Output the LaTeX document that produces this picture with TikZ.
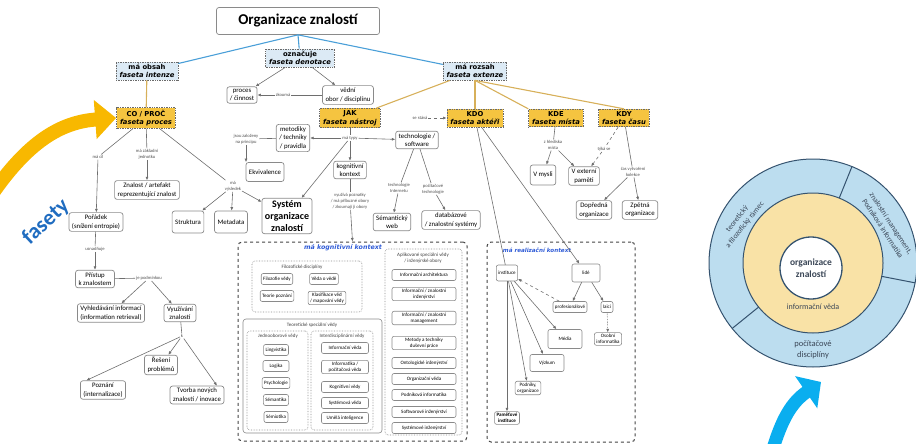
\documentclass[tikz,border=0pt]{standalone}
\usepackage{fontspec}
\setmainfont{Carlito}
\newfontfamily\facetfont{DejaVu Sans}
\usetikzlibrary{arrows.meta}
\definecolor{faceblue}{HTML}{DCEAF5}
\definecolor{facegold}{HTML}{F5C440}
\definecolor{facetline}{HTML}{6A6A6A}
\definecolor{boxgray}{HTML}{8A8A8A}
\definecolor{linegray}{HTML}{6E6E6E}
\definecolor{lblgray}{HTML}{505050}
\definecolor{topblue}{HTML}{4A9FD8}
\definecolor{facetan}{HTML}{D7B05A}
\definecolor{ctxline}{HTML}{444444}
\definecolor{ctxblue}{HTML}{2F5BD6}
\definecolor{ringblue}{HTML}{BCDDEF}
\definecolor{ringyellow}{HTML}{F9E2A6}
\definecolor{ringdark}{HTML}{35536F}
\definecolor{ringtextc}{HTML}{3A4656}
\definecolor{arrowgold}{HTML}{F8B800}
\definecolor{arrowcyan}{HTML}{0AAEEF}
\definecolor{fasetyblue}{HTML}{1F6CC0}
\begin{document}
\begin{tikzpicture}[x=1pt, y=-1pt,
  box/.style={draw=boxgray, fill=white, rounded corners=2.5pt, line width=0.7pt, align=center, inner xsep=3pt, inner ysep=2.2pt, font=\fontsize{6.8}{8.5}\selectfont},
  sbox/.style={box, font=\fontsize{5}{6.3}\selectfont, inner xsep=2pt, inner ysep=1.4pt, minimum height=11pt, line width=0.6pt, rounded corners=2pt},
  lbl/.style={fill=white, inner sep=0.8pt, align=center, text=lblgray, font=\fontsize{4.6}{5.8}\selectfont},
  facet/.style={draw=facetline, densely dotted, line width=0.7pt, align=center, inner xsep=3.5pt, inner ysep=2pt, font=\facetfont\bfseries\fontsize{6.8}{8.6}\selectfont},
  blueface/.style={facet, fill=faceblue},
  goldface/.style={facet, fill=facegold},
  grp/.style={draw=boxgray, densely dotted, rounded corners=3pt, line width=0.6pt},
  grptitle/.style={inner sep=0.5pt, align=center, text=darkgray, font=\fontsize{5}{6.3}\selectfont},
  ctxbox/.style={draw=ctxline, dashed, rounded corners=4pt, line width=1pt},
  ctxtitle/.style={text=ctxblue, inner sep=0.5pt, font=\facetfont\bfseries\itshape\fontsize{6.3}{7.5}\selectfont},
  link/.style={draw=linegray, line width=0.6pt},
  arr/.style={link, -{Latex[length=3.5pt,width=3pt]}},
  blueline/.style={draw=topblue, line width=1.1pt},
  tanline/.style={draw=facetan, line width=1.1pt},
  ringline/.style={draw=ringdark, line width=1pt},
  ringtext/.style={text=ringtextc, align=center, inner sep=0pt, font=\fontsize{7.6}{9.8}\selectfont}]
\useasboundingbox (0,0) rectangle (916,444);

\node[box, font=\bfseries\fontsize{15}{17}\selectfont, minimum width=163pt, minimum height=27pt] (org) at (298,21) {Organizace znalostí};
\node[blueface] (denot) at (300,58) {označuje\\\textit{faseta denotace}};
\node[blueface] (intenze) at (147,71) {má obsah\\\textit{faseta intenze}};
\node[blueface] (extenze) at (475,71) {má rozsah\\\textit{faseta extenze}};

\node[box] (proces) at (242,95) {proces\\/ činnost};
\node[box] (vedni) at (348,95) {vědní\\obor / disciplínu};
\node[lbl] (zkouma) at (283,95) {zkoumá};

\node[goldface] (co) at (146,118) {CO / PROČ\\\textit{faseta proces}};
\node[goldface] (jak) at (350,118) {JAK\\\textit{faseta nástroj}};
\node[goldface] (kdo) at (475,118) {KDO\\\textit{faseta aktéři}};
\node[goldface] (kde) at (556,118) {KDE\\\textit{faseta místa}};
\node[goldface] (kdy) at (624,118) {KDY\\\textit{faseta času}};

\draw[blueline] (org.south) -- (intenze);
\draw[blueline] (org.south) -- (denot);
\draw[blueline] (org.south) -- (extenze);
\draw[arr] (denot) -- (proces);
\draw[arr] (denot) -- (vedni);
\draw[link] (vedni) -- (zkouma);
\draw[arr] (zkouma) -- (proces);
\draw[tanline] (intenze) -- (co);
\draw[tanline] (extenze) -- (jak);
\draw[tanline] (extenze) -- (kdo);
\draw[tanline] (extenze.south) -- (kde.north west);
\draw[tanline] (extenze.south) -- (kdy.north);

\node[lbl] (maCil) at (98,157) {má cíl};
\node[lbl] (maZakl) at (147,154) {má základní\\jednotku};
\node[lbl] (maVysl) at (233,186) {má\\výsledek};
\node[box] (znalost) at (147,190) {Znalost / artefakt\\reprezentující znalost};
\node[box] (poradek) at (96,222) {Pořádek\\(snížení entropie)};
\node[box, minimum height=22pt] (struktura) at (188,222) {Struktura};
\node[box, minimum height=22pt] (metadata) at (231,222) {Metadata};
\draw[link] (co) -- (maCil);
\draw[arr] (maCil) -- (poradek);
\draw[link] (co) -- (maZakl);
\draw[arr] (maZakl) -- (znalost);
\draw[link] (co) -- (maVysl);

\node[lbl] (usnadnuje) at (95,249) {usnadňuje};
\node[box] (pristup) at (95,279) {Přístup\\k znalostem};
\node[lbl] (jePodm) at (149,278) {je podmínkou};
\node[box] (vyhled) at (111,313) {Vyhledávání informací\\(information retrieval)};
\node[box] (vyuz) at (180,313) {Využívání\\znalostí};
\node[lbl] (kLbl) at (182,336) {k};
\node[box] (reseni) at (161,365) {Řešení\\problémů};
\node[box] (poznani) at (103,390) {Poznání\\(internalizace)};
\node[box] (tvorba) at (197,395) {Tvorba nových\\znalostí / inovace};
\draw[link] (poradek) -- (usnadnuje);
\draw[arr] (usnadnuje) -- (pristup);
\draw[link] (pristup) -- (jePodm);
\draw[arr] (jePodm) -- (vyhled);
\draw[arr] (jePodm) -- (vyuz);
\draw[link] (vyuz) -- (kLbl);
\draw[arr] (kLbl) -- (poznani.150);
\draw[arr] (kLbl) -- (reseni);
\draw[arr] (kLbl) -- (tvorba.25);

\node[lbl] (maTypy) at (350,138) {má typy};
\node[box] (metodiky) at (293,138) {metodiky\\/ techniky\\/ pravidla};
\node[lbl] (zalozeny) at (246,139) {jsou založeny\\na principu};
\node[box, minimum height=19pt] (ekviv) at (265,172) {Ekvivalence};
\node[box] (techno) at (417,140) {technologie /\\software};
\node[lbl] (seStava) at (420,118) {se stává};
\node[box] (kogn) at (350,170) {kognitivní\\kontext};
\node[box, font=\bfseries\fontsize{10}{12}\selectfont] (system) at (287,216) {Systém\\organizace\\znalostí};
\node[lbl] (vyuziva) at (350,201) {využívá poznatky\\/ má příbuzné obory\\/ zkoumají ji obory};
\node[lbl] (techInt) at (399,188) {technologie\\Internetu};
\node[lbl] (pocTech) at (433,189) {počítačové\\technologie};
\node[box] (semWeb) at (392,222) {Sémantický\\web};
\node[box] (databaze) at (451,220) {databázové\\/ znalostní systémy};
\draw[link] (jak) -- (maTypy);
\draw[arr] (maTypy) -- (metodiky);
\draw[arr] (maTypy) -- (techno);
\draw[arr] (maTypy) -- (kogn);
\draw[arr] (maTypy) -- (system);
\draw[link] (metodiky) -- (zalozeny);
\draw[arr] (zalozeny) -- (zalozeny |- ekviv.north);
\draw[arr, dashed] (seStava) -- (kdo);
\draw[link] (techno) -- (techInt);
\draw[arr] (techInt) -- (semWeb);
\draw[link] (techno) -- (pocTech);
\draw[arr] (pocTech) -- (databaze);
\draw[arr] (maVysl) -- (struktura);
\draw[arr] (maVysl) -- (metadata);
\draw[arr] (maVysl) -- (system);
\draw[link] (kogn) -- (vyuziva);

\node[ctxbox, minimum width=229pt, minimum height=199pt] (kogBox) at (352.5,341.5) {};
\draw[arr] (vyuziva) -- (kogBox.north);
\node[ctxtitle] (kogTitle) at (343,248) {má kognitivní kontext};

\node[grp, minimum width=110pt, minimum height=51pt] (filGrp) at (307,286.5) {};
\node[grptitle] (filTitle) at (302,267) {Filozofické disciplíny};
\node[sbox] (filVedy) at (277,279) {Filozofie vědy};
\node[sbox] (vedaVede) at (324,279) {Věda o vědě};
\node[sbox] (teorie) at (277,296) {Teorie poznání};
\node[sbox] (klasif) at (327,298) {Klasifikace věd\\/ mapování vědy};

\node[grp, solid, minimum width=139pt, minimum height=114pt] (teoGrp) at (312.5,376) {};
\node[grptitle] (teoTitle) at (312,325) {Teoretické speciální vědy};
\node[grp, minimum width=61pt, minimum height=99pt] (jedGrp) at (277.5,380.5) {};
\node[grptitle] (jedTitle) at (278,336) {Jednooborové vědy};
\node[sbox] (lingv) at (276,350) {Lingvistika};
\node[sbox, minimum width=26pt] (logika) at (276,366) {Logika};
\node[sbox] (psych) at (276,383) {Psychologie};
\node[sbox] (seman) at (276,400) {Sémantika};
\node[sbox] (semio) at (276,417) {Sémiotika};
\node[grp, minimum width=62pt, minimum height=99pt] (intGrp) at (342,380.5) {};
\node[grptitle] (intTitle) at (342,336) {Interdisciplinární vědy};
\node[sbox, minimum width=47pt] (infVeda) at (345,348) {Informační věda};
\node[sbox, minimum width=47pt] (informatika) at (345,367) {Informatika /\\počítačová věda};
\node[sbox, minimum width=47pt] (kognVedy) at (345,387) {Kognitivní vědy};
\node[sbox, minimum width=47pt] (systVeda) at (345,403) {Systémová věda};
\node[sbox, minimum width=47pt] (umelaInt) at (345,418) {Umělá inteligence};

\node[grp, minimum width=77pt, minimum height=186pt] (aplGrp) at (423.5,342) {};
\node[grptitle] (aplTitle) at (423,258) {Aplikované speciální vědy\\/ inženýrské obory};
\node[sbox, minimum width=64pt] (infArch) at (424,275) {Informační architektura};
\node[sbox, minimum width=64pt] (infInz) at (424,294) {Informační / znalostní\\inženýrství};
\node[sbox, minimum width=64pt] (infMan) at (424,318) {Informační / znalostní\\management};
\node[sbox, minimum width=64pt] (metody) at (424,343) {Metody a techniky\\duševní práce};
\node[sbox, minimum width=64pt] (onto) at (424,363) {Ontologické inženýrství};
\node[sbox, minimum width=64pt] (orgVeda) at (424,379) {Organizační věda};
\node[sbox, minimum width=64pt] (podInf) at (424,395) {Podniková informatika};
\node[sbox, minimum width=64pt] (softInz) at (424,412) {Softwarové inženýrství};
\node[sbox, minimum width=64pt] (systInz) at (424,428) {Systémové inženýrství};

\node[ctxbox, minimum width=148pt, minimum height=200pt] (realBox) at (561,342) {};
\node[ctxtitle, font=\facetfont\bfseries\itshape\fontsize{5.6}{6.8}\selectfont] (realTitle) at (537,250) {má realizační kontext};
\node[sbox, minimum height=16pt] (instituce) at (507,273) {instituce};
\node[sbox, minimum height=18pt, minimum width=28pt] (lide) at (586,273) {lidé};
\node[sbox] (prof) at (570,307) {profesionálové};
\node[sbox] (laici) at (607,307) {laici};
\node[sbox, minimum height=19pt, minimum width=34pt] (media) at (565,339) {Média};
\node[sbox] (osobni) at (608,339) {Osobní\\informatika};
\node[sbox, minimum height=17pt, minimum width=34pt] (vyzkum) at (547,363) {Výzkum};
\node[sbox] (podniky) at (528,388) {Podniky,\\organizace};
\node[sbox, font=\bfseries\fontsize{5}{6.3}\selectfont] (pamet) at (507,418) {Paměťové\\instituce};
\draw[link] (kdo) -- (instituce);
\draw[arr] (kdo) -- (lide);
\draw[arr] (lide) -- (prof);
\draw[arr] (lide) -- (laici);
\draw[arr, dashed] (prof) -- (instituce);
\draw[arr, densely dotted] (laici) -- (osobni);
\draw[arr] (instituce) -- (media);
\draw[arr] (instituce) -- (vyzkum);
\draw[arr] (instituce) -- (podniky);
\draw[arr] (instituce) -- (pamet);

\node[lbl] (zHled) at (553,145) {z hlediska\\místa};
\node[box, minimum height=20pt] (vMysli) at (543,175) {V mysli};
\node[box] (vExt) at (584,176) {V externí\\paměti};
\node[lbl] (tykaSe) at (604,149) {týká se};
\node[lbl] (casVytv) at (633,172) {čas vytvoření\\kolekce};
\node[box] (dopredna) at (594,210) {Dopředná\\organizace};
\node[box] (zpetna) at (640,210) {Zpětná\\organizace};
\draw[link] (kde) -- (zHled);
\draw[arr] (zHled) -- (vMysli);
\draw[arr] (zHled) -- (vExt);
\draw[link, dashed] (kdy) -- (tykaSe);
\draw[arr, dashed] (tykaSe) -- (vExt);
\draw[link] (kdy) -- (casVytv);
\draw[arr] (casVytv) -- (dopredna);
\draw[arr] (casVytv) -- (zpetna);

\coordinate (goldStart) at (-12,200);
\draw[draw=arrowgold, line width=14pt, -{Triangle[length=21pt,width=38pt]}] (goldStart) .. controls (28,140) and (62,122) .. (co.west);
\node[text=fasetyblue, rotate=43, font=\bfseries\fontsize{22}{24}\selectfont] (fasety) at (46,222) {fasety};

\coordinate (ringC) at (813,263);
\coordinate (coreC) at (811,268);
\draw[ringline, fill=ringblue] (ringC) circle[radius=104pt];
\draw[ringline, fill=ringyellow] (ringC) circle[radius=70pt];
\draw[ringline, fill=white, line width=1.3pt] (coreC) circle[radius=31pt];
\foreach \ang in {68,-11,219}
  \draw[ringline] (ringC) ++(\ang:70pt) -- ++(\ang:34pt);
\node[ringtext, rotate=52] (teorRamec) at (741,222) {teoretický\\a filozofický rámec};
\node[ringtext, rotate=-57] (znalMan) at (887,226) {znalostní management,\\Podniková informatika};
\node[ringtext, font=\fontsize{8.5}{10.5}\selectfont] (pocitac) at (813,350) {počítačové\\disciplíny};
\node[ringtext, font=\bfseries\fontsize{9.5}{12}\selectfont] (orgZnal) at (811,268) {organizace\\znalostí};
\node[ringtext, font=\fontsize{8}{9}\selectfont] (infVedaR) at (813,307) {informační věda};

\coordinate (blueStart) at (772,452);
\coordinate (blueTip) at (821,382);
\draw[draw=arrowcyan, line width=13pt, -{Triangle[length=18pt,width=38pt]}] (blueStart) .. controls (782,418) and (792,402) .. (blueTip);
\end{tikzpicture}
\end{document}
